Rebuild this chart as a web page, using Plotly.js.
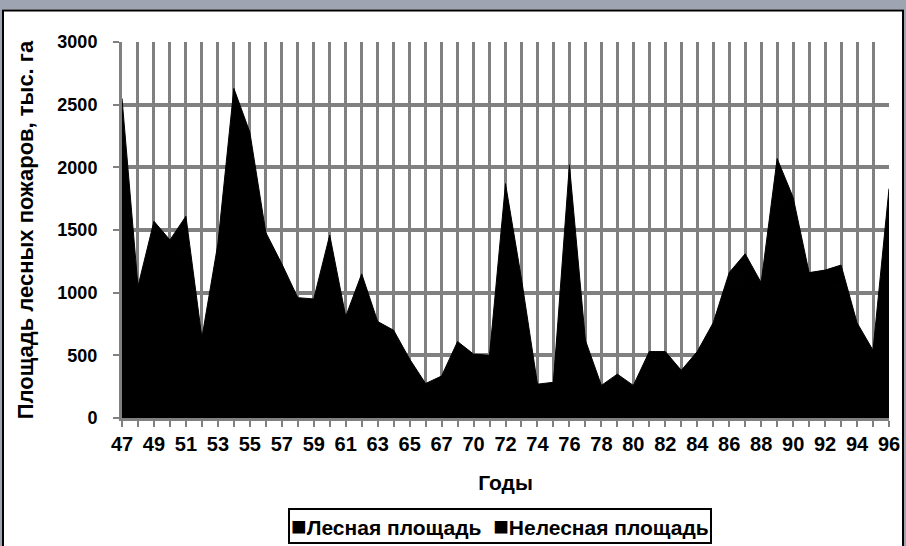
<!DOCTYPE html>
<html>
<head>
<meta charset="utf-8">
<script src="https://cdn.plot.ly/plotly-3.0.1.min.js"></script>
<style>
  html, body { margin: 0; padding: 0; background: #ffffff; }
  #chart { width: 906px; height: 546px; }
</style>
</head>
<body>
<div id="chart"></div>
<script>
// Years (two-digit), one year is absent in the source between 67 and 70
const years = ['47','48','49','50','51','52','53','54','55','56','57','58','59','60','61','62','63','64','65','66','67','68',
               '70','71','72','73','74','75','76','77','78','79','80','81','82','83','84','85','86','87','88','89','90','91','92','93','94','95','96'];
const tickLabels = ['47','','49','','51','','53','','55','','57','','59','','61','','63','','65','','67','',
                    '70','','72','','74','','76','','78','','80','','82','','84','','86','','88','','90','','92','','94','','96'];
// Лесная площадь, тыс. га
const forest = [2200, 900, 1350, 1220, 1370, 550, 1200, 2250, 1950, 1270, 1060, 830, 810, 1260, 700, 990, 670, 610, 410, 240, 290, 530,
                440, 440, 1610, 960, 240, 250, 1730, 540, 230, 310, 230, 460, 470, 330, 460, 660, 1010, 1140, 940, 1790, 1530, 1010, 1020, 1060, 660, 470, 1590];
// Нелесная площадь, тыс. га
const nonforest = [350, 150, 220, 200, 240, 90, 190, 380, 330, 210, 170, 130, 140, 200, 110, 160, 100, 90, 60, 35, 45, 80,
                   70, 60, 260, 150, 30, 35, 290, 80, 30, 40, 30, 70, 60, 50, 70, 100, 150, 170, 140, 280, 230, 150, 160, 160, 100, 70, 240];
const seriesNames = ['Лесная площадь', 'Нелесная площадь'];
const yTicks = [0, 500, 1000, 1500, 2000, 2500, 3000];

const FONT = "'Liberation Sans Narrow', 'Liberation Sans', Arial, sans-serif";

// pixel -> paper helpers (plot area: x 122..889, y 42..418)
const PL = 122, PR = 889, PT = 42, PB = 418;
const px = v => (v - PL) / (PR - PL);
const py = v => (PB - v) / (PB - PT);

const traces = [
  { x: years, y: forest, name: seriesNames[0], type: 'scatter', mode: 'lines', stackgroup: 'one',
    fillcolor: '#000000', line: { width: 1.5, color: '#000000' }, showlegend: false },
  { x: years, y: nonforest, name: seriesNames[1], type: 'scatter', mode: 'lines', stackgroup: 'one',
    fillcolor: '#000000', line: { width: 1, color: '#000000' }, showlegend: false }
];

const layout = {
  width: 906, height: 546,
  margin: { l: PL, r: 906 - PR, t: PT, b: 546 - PB, autoexpand: false },
  paper_bgcolor: '#ffffff', plot_bgcolor: '#ffffff',
  showlegend: false,
  font: { family: FONT, color: '#000000', weight: 'bold' },
  xaxis: {
    type: 'category', range: [0, years.length - 1], automargin: false,
    tickmode: 'array', tickvals: years, ticktext: tickLabels,
    showgrid: true, gridcolor: '#808080', gridwidth: 3,
    showline: true, linecolor: '#808080', linewidth: 3,
    ticks: 'outside', ticklen: 6, tickwidth: 2, tickcolor: '#808080',
    tickangle: 0,
    tickfont: { family: FONT, size: 20, color: '#000000', weight: 'bold' },
    title: { text: 'Годы', font: { family: FONT, size: 21, color: '#000000', weight: 'bold' }, standoff: 22 }
  },
  yaxis: {
    range: [0, 3000], automargin: false,
    tickmode: 'array', tickvals: yTicks, ticktext: yTicks.map(String),
    showgrid: true, gridcolor: '#808080', gridwidth: 4,
    zeroline: false,
    showline: true, linecolor: '#808080', linewidth: 3,
    ticks: 'outside', ticklen: 6, tickwidth: 2, tickcolor: '#808080',
    tickfont: { family: FONT, size: 18, color: '#000000', weight: 'bold' },
    ticklabelstandoff: 12,
    title: { text: 'Площадь лесных пожаров, тыс. га', font: { family: FONT, size: 22, color: '#000000', weight: 'bold' }, standoff: 18 }
  },
  shapes: [
    // background strip at the top (slide background)
    { type: 'rect', xref: 'paper', yref: 'paper', x0: px(-5), x1: px(912), y0: py(9.5), y1: py(-5),
      fillcolor: '#9ea4b2', line: { width: 0 }, layer: 'below' },
    { type: 'rect', xref: 'paper', yref: 'paper', x0: px(-5), x1: px(2), y0: py(560), y1: py(-5),
      fillcolor: '#9ea4b2', line: { width: 0 }, layer: 'below' },
    { type: 'rect', xref: 'paper', yref: 'paper', x0: px(904), x1: px(912), y0: py(560), y1: py(-5),
      fillcolor: '#9ea4b2', line: { width: 0 }, layer: 'below' },
    // chart frame
    { type: 'rect', xref: 'paper', yref: 'paper', x0: px(3), x1: px(903), y0: py(560), y1: py(10.5),
      fillcolor: 'rgba(0,0,0,0)', line: { width: 2, color: '#000000' } }
  ],
  annotations: [
    { xref: 'paper', yref: 'paper', x: px(500), y: py(526), xanchor: 'center', yanchor: 'middle',
      text: '<span style="font-size:26px">■</span>' + seriesNames[0] + '  <span style="font-size:26px">■</span>' + seriesNames[1],
      showarrow: false,
      font: { family: FONT, size: 21, color: '#000000', weight: 'bold' },
      bordercolor: '#000000', borderwidth: 2, borderpad: 1, bgcolor: '#ffffff' }
  ]
};

Plotly.newPlot('chart', traces, layout, { displayModeBar: false, staticPlot: true });
</script>
</body>
</html>
